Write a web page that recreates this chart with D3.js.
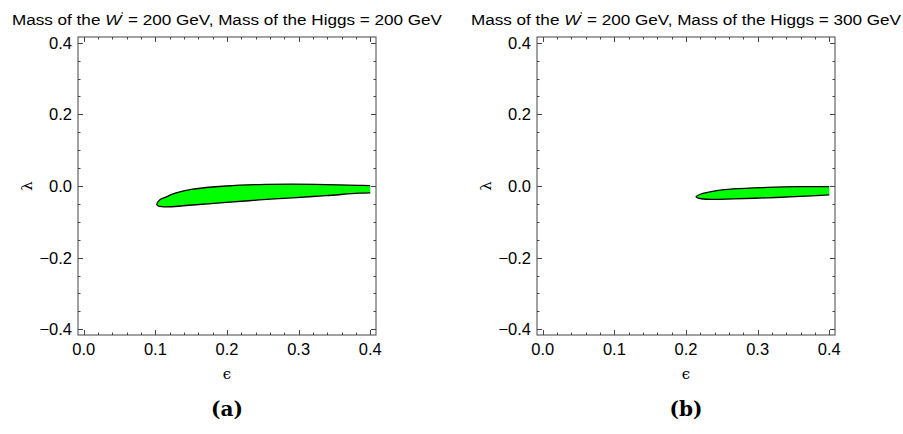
<!DOCTYPE html>
<html>
<head>
<meta charset="utf-8">
<script src="https://cdn.jsdelivr.net/npm/d3@7"></script>
<style>
  body { margin: 0; background: #fff; }
  svg { display: block; }
</style>
</head>
<body>
<svg id="chart" width="903" height="434"></svg>
<script>
// region outlines, [epsilon, lambda]
var upperA = [[0.102,-0.051],[0.106,-0.039],[0.111,-0.034],[0.120,-0.026],[0.129,-0.019],[0.152,-0.009],[0.199,0.000],[0.245,0.004],[0.291,0.005],[0.338,0.004],[0.384,0.002],[0.400,0.001]];
var lowerA = [[0.102,-0.051],[0.104,-0.056],[0.111,-0.058],[0.120,-0.058],[0.152,-0.053],[0.199,-0.046],[0.245,-0.039],[0.291,-0.033],[0.338,-0.027],[0.384,-0.020],[0.400,-0.019]];

var upperB = [[0.214,-0.030],[0.220,-0.023],[0.243,-0.013],[0.266,-0.008],[0.313,-0.004],[0.359,-0.002],[0.400,-0.002]];
var lowerB = [[0.214,-0.030],[0.217,-0.034],[0.229,-0.037],[0.266,-0.036],[0.313,-0.033],[0.359,-0.029],[0.400,-0.025]];

var higgsMasses = ["200", "300"];
var captions = ["(a)", "(b)"];
var xTickLabels = ["0.0", "0.1", "0.2", "0.3", "0.4"];
var yTickLabels = ["\u22120.4", "\u22120.2", "0.0", "0.2", "0.4"];

var svg = d3.select("#chart");
var frameColor = "#444";
var sans = "Liberation Sans, Arial, sans-serif";

function drawPanel(left, upper, lower, mass, caption) {
    var top = 37, size = 298;
    var x = d3.scaleLinear().domain([-0.008, 0.408]).range([left, left + size]);
    var y = d3.scaleLinear().domain([-0.416, 0.416]).range([top + size, top]);
    var g = svg.append("g");

    // region: lower edge right->tip then upper edge tip->right; fill closes along eps=0.4
    var outline = lower.slice().reverse().concat(upper.slice(1));
    var line = d3.line()
        .x(function(d) { return x(d[0]); })
        .y(function(d) { return y(d[1]); })
        .curve(d3.curveCatmullRom.alpha(0.5));
    g.append("path")
        .attr("d", line(outline))
        .style("fill", "#00ff00")
        .style("stroke", "#000")
        .style("stroke-width", 1.3)
        .style("stroke-linejoin", "round");

    // frame
    g.append("rect")
        .attr("x", left).attr("y", top)
        .attr("width", size).attr("height", size)
        .style("fill", "none")
        .style("stroke", frameColor)
        .style("stroke-width", 1);

    var xMajor = x.ticks(4), xMinor = x.ticks(20);
    var yMajor = y.ticks(4), yMinor = y.ticks(16);

    function isMajor(v, list) {
        return list.some(function(m) { return Math.abs(m - v) < 1e-9; });
    }

    xMinor.forEach(function(v) {
        var len = isMajor(v, xMajor) ? 5 : 2.5;
        var px = Math.round(x(v)) + 0.5;
        g.append("line").attr("x1", px).attr("x2", px).attr("y1", top + size).attr("y2", top + size - len)
            .style("stroke", frameColor);
        g.append("line").attr("x1", px).attr("x2", px).attr("y1", top).attr("y2", top + len)
            .style("stroke", frameColor);
    });
    yMinor.forEach(function(v) {
        var len = isMajor(v, yMajor) ? 5 : 2.5;
        var py = Math.round(y(v)) + 0.5;
        g.append("line").attr("x1", left).attr("x2", left + len).attr("y1", py).attr("y2", py)
            .style("stroke", frameColor);
        g.append("line").attr("x1", left + size).attr("x2", left + size - len).attr("y1", py).attr("y2", py)
            .style("stroke", frameColor);
    });

    // tick labels
    g.selectAll(".xlab")
        .data(xMajor)
        .enter().append("text")
        .attr("x", function(d) { return x(d); })
        .attr("y", top + size + 20)
        .attr("text-anchor", "middle")
        .style("font-family", sans)
        .style("font-size", "16.5px")
        .text(function(d, i) { return xTickLabels[i]; });

    g.selectAll(".ylab")
        .data(yMajor)
        .enter().append("text")
        .attr("x", left - 6)
        .attr("y", function(d) { return y(d) + 6; })
        .attr("text-anchor", "end")
        .style("font-family", sans)
        .style("font-size", "16.5px")
        .text(function(d, i) { return yTickLabels[i]; });

    // axis labels
    g.append("text")
        .attr("x", left + size / 2)
        .attr("y", top + size + 44)
        .attr("text-anchor", "middle")
        .style("font-family", "DejaVu Serif, serif")
        .style("font-size", "15px")
        .text("\u03f5");

    g.append("text")
        .attr("transform", "translate(" + (left - 46) + "," + y(0) + ") rotate(-90)")
        .attr("text-anchor", "middle")
        .style("font-family", "DejaVu Serif, serif")
        .style("font-size", "15px")
        .text("\u03bb");

    // title
    var title = g.append("text")
        .attr("x", left + size / 2)
        .attr("y", 25)
        .attr("text-anchor", "middle")
        .attr("textLength", 430)
        .attr("lengthAdjust", "spacingAndGlyphs")
        .style("font-family", sans)
        .style("font-size", "15.5px");
    title.append("tspan").text("Mass of the ");
    title.append("tspan").style("font-style", "italic").text("W");
    title.append("tspan").attr("dy", -7).style("font-size", "9px").text("'");
    title.append("tspan").attr("dy", 7).text(" = 200 GeV, Mass of the Higgs = " + mass + " GeV");

    // caption
    g.append("text")
        .attr("x", left + size / 2)
        .attr("y", 416)
        .attr("text-anchor", "middle")
        .style("font-family", "DejaVu Serif, serif")
        .style("font-weight", "bold")
        .style("font-size", "20px")
        .text(caption);
}

drawPanel(78, upperA, lowerA, higgsMasses[0], captions[0]);
drawPanel(537, upperB, lowerB, higgsMasses[1], captions[1]);
</script>
</body>
</html>
